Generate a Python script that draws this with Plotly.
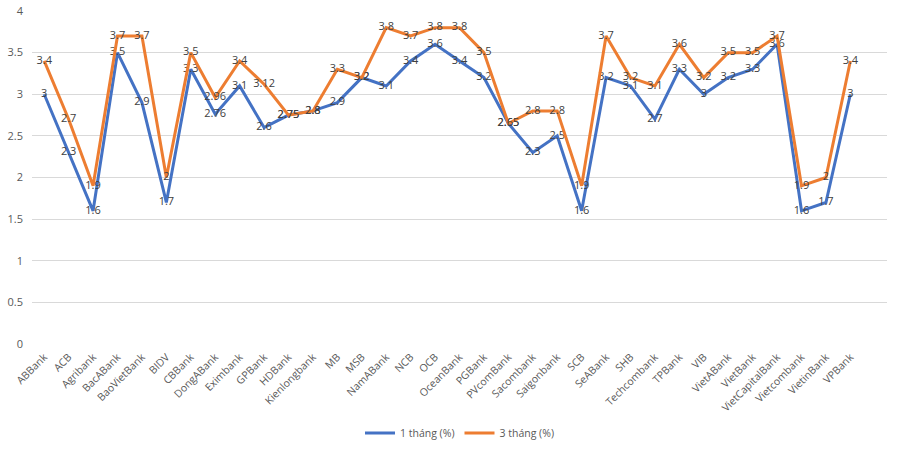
import plotly.graph_objects as go

banks = ["ABBank", "ACB", "Agribank", "BacABank", "BaoVietBank", "BIDV", "CBBank",
         "DongABank", "Eximbank", "GPBank", "HDBank", "Kienlongbank", "MB", "MSB",
         "NamABank", "NCB", "OCB", "OceanBank", "PGBank", "PVcomBank", "Sacombank",
         "Saigonbank", "SCB", "SeABank", "SHB", "Techcombank", "TPBank", "VIB",
         "VietABank", "VietBank", "VietCapitalBank", "Vietcombank", "VietinBank", "VPBank"]

one_month = [3, 2.3, 1.6, 3.5, 2.9, 1.7, 3.3, 2.76, 3.1, 2.6, 2.75, 2.8, 2.9, 3.2,
             3.1, 3.4, 3.6, 3.4, 3.2, 2.65, 2.3, 2.5, 1.6, 3.2, 3.1, 2.7, 3.3, 3,
             3.2, 3.3, 3.6, 1.6, 1.7, 3]

three_month = [3.4, 2.7, 1.9, 3.7, 3.7, 2, 3.5, 2.96, 3.4, 3.12, 2.75, 2.8, 3.3, 3.2,
               3.8, 3.7, 3.8, 3.8, 3.5, 2.65, 2.8, 2.8, 1.9, 3.7, 3.2, 3.1, 3.6, 3.2,
               3.5, 3.5, 3.7, 1.9, 2, 3.4]

y_ticks = [0, 0.5, 1, 1.5, 2, 2.5, 3, 3.5, 4]

label_font = dict(family="Open Sans, Liberation Sans, sans-serif", size=11, color="#404040")

fig = go.Figure()
fig.add_trace(go.Scatter(
    x=banks, y=one_month, mode="lines+text", name="1 tháng (%)",
    line=dict(color="#4472C4", width=3),
    text=[f"{v:g}" for v in one_month], textposition="middle center",
    textfont=label_font, cliponaxis=False,
))
fig.add_trace(go.Scatter(
    x=banks, y=three_month, mode="lines+text", name="3 tháng (%)",
    line=dict(color="#ED7D31", width=3),
    text=[f"{v:g}" for v in three_month], textposition="middle center",
    textfont=label_font, cliponaxis=False,
))

fig.update_layout(
    width=900, height=450,
    margin=dict(l=32, r=13, t=11, b=106, autoexpand=False),
    plot_bgcolor="white", paper_bgcolor="white",
    font=dict(family="Open Sans, Liberation Sans, sans-serif", color="#595959", size=11),
    showlegend=True,
    legend=dict(orientation="h", x=0.5, xanchor="center", y=-0.267, yanchor="middle",
                font=dict(size=10.5, color="#595959"), itemwidth=30),
    xaxis=dict(
        type="category", categoryorder="array", categoryarray=banks,
        range=[-0.5, len(banks) + 0.5], automargin=False,
        tickangle=-45, tickfont=dict(size=10.5, color="#595959"),
        showgrid=False, showline=False, zeroline=False, ticks="",
        ticklabelstandoff=4,
    ),
    yaxis=dict(
        range=[0, 4], tickvals=y_ticks, ticktext=[f"{v:g}" for v in y_ticks],
        showgrid=True, gridcolor="#D9D9D9", gridwidth=1, automargin=False,
        zeroline=False, showline=False, ticks="",
        tickfont=dict(size=11, color="#595959"), ticklabelstandoff=8,
    ),
)

fig.write_html("out.html")
